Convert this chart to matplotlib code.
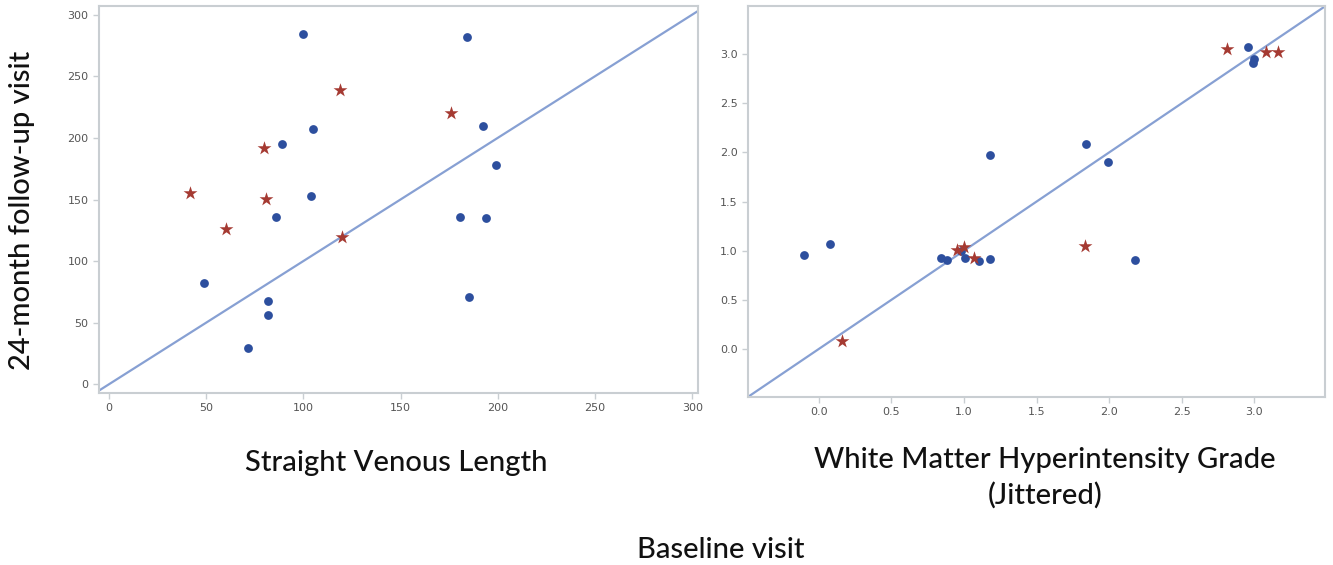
import matplotlib
matplotlib.use("Agg")
import matplotlib.pyplot as plt
import numpy as np

# Straight venous length: baseline vs 24-month
svl_blue_base = [100, 184, 105, 89, 104, 86, 49, 82, 82, 71.5, 192.6, 199, 180.6, 193.8, 185.2]
svl_blue_follow = [284, 282, 207, 195, 153, 135.5, 82, 68, 56, 29.5, 210, 178, 136, 135, 70.6]
svl_red_base = [119, 79.7, 41.8, 81, 60.2, 120, 176]
svl_red_follow = [239, 192, 155.5, 150.7, 126, 119.3, 220]

# White matter hyperintensity grade (jittered)
wmh_blue_base = [1.18, -0.10, 0.074, 0.84, 0.88, 1.01, 1.105, 1.18, 0.98, 1.84, 1.99, 2.96, 3.0, 2.99, 2.18]
wmh_blue_follow = [1.975, 0.96, 1.066, 0.924, 0.903, 0.93, 0.893, 0.91, 1.0, 2.09, 1.90, 3.075, 2.95, 2.906, 0.903]
wmh_red_base = [0.16, 0.95, 1.0, 1.07, 2.81, 3.08, 3.16, 1.835]
wmh_red_follow = [0.08, 1.005, 1.04, 0.93, 3.055, 3.02, 3.02, 1.05]

svl_ticks = [0, 50, 100, 150, 200, 250, 300]
wmh_ticks = [0.0, 0.5, 1.0, 1.5, 2.0, 2.5, 3.0]

blue = "#2d4f9e"
red = "#a53a32"
line_col = "#87a0d3"
frame_col = "#c9ced2"
tick_col = "#555555"
label_font = ["Lato", "DejaVu Sans"]

fig = plt.figure(figsize=(13.33, 5.65), dpi=100)
ax1 = fig.add_axes([0.0743, 0.3044, 0.4494, 0.685])
ax2 = fig.add_axes([0.561, 0.2973, 0.4333, 0.692])


def style(ax, xlims, ylims, ticks, fmt):
    ax.set_xlim(xlims)
    ax.set_ylim(ylims)
    lo = min(xlims[0], ylims[0])
    hi = max(xlims[1], ylims[1])
    ax.plot([lo, hi], [lo, hi], color=line_col, lw=1.6, zorder=1)
    ax.set_xticks(ticks)
    ax.set_yticks(ticks)
    ax.set_xticklabels([fmt.format(t) for t in ticks])
    ax.set_yticklabels([fmt.format(t) for t in ticks])
    for s in ax.spines.values():
        s.set_color(frame_col)
        s.set_linewidth(1.5)
    ax.tick_params(colors=frame_col, labelcolor=tick_col, labelsize=8,
                   length=4, width=1, direction="out")


style(ax1, (-5, 303), (-7, 307), svl_ticks, "{:.0f}")
ax1.scatter(svl_blue_base, svl_blue_follow, s=40, color=blue, zorder=3, linewidths=0)
ax1.scatter(svl_red_base, svl_red_follow, s=110, marker="*", color=red, zorder=4, linewidths=0)

style(ax2, (-0.49, 3.49), (-0.49, 3.49), wmh_ticks, "{:.1f}")
ax2.scatter(wmh_blue_base, wmh_blue_follow, s=40, color=blue, zorder=3, linewidths=0)
ax2.scatter(wmh_red_base, wmh_red_follow, s=110, marker="*", color=red, zorder=4, linewidths=0)

txt = dict(fontsize=21, family=label_font, color="#111111", weight="medium")
fig.text(0.0165, 0.628, "24-month follow-up visit", rotation=90, ha="center", va="center", **txt)
fig.text(0.297, 0.180, "Straight Venous Length", ha="center", va="center", **txt)
fig.text(0.784, 0.186, "White Matter Hyperintensity Grade", ha="center", va="center", **txt)
fig.text(0.784, 0.124, "(Jittered)", ha="center", va="center", **txt)
fig.text(0.541, 0.027, "Baseline visit", ha="center", va="center", **txt)

fig.savefig("out.png", dpi=100)
